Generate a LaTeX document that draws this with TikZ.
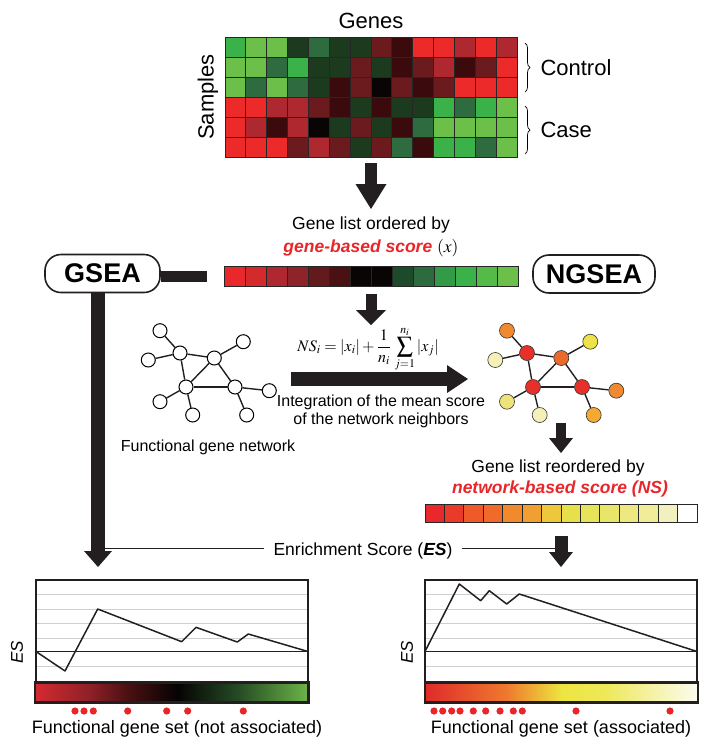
\documentclass[tikz,border=0pt]{standalone}
\usepackage{mathptmx}
\usepackage{fontspec}
\setmainfont{Liberation Sans}
\usetikzlibrary{arrows.meta,positioning,decorations.pathreplacing}
\definecolor{hmR}{HTML}{ED2A2A}
\definecolor{hmM}{HTML}{B0282F}
\definecolor{hmD}{HTML}{6B1A1E}
\definecolor{hmV}{HTML}{3A0A0C}
\definecolor{hmK}{HTML}{0A0505}
\definecolor{hmA}{HTML}{1C3A1E}
\definecolor{hmB}{HTML}{2E6B3E}
\definecolor{hmC}{HTML}{3BB14A}
\definecolor{hmE}{HTML}{6CC04A}
\definecolor{ink}{HTML}{231F20}
\definecolor{scorered}{HTML}{E8262A}
\definecolor{gridc}{HTML}{CFCFCF}
\definecolor{nsRed}{HTML}{E8302A}
\definecolor{nsDeep}{HTML}{EA6A2C}
\definecolor{nsOrange}{HTML}{F08A30}
\definecolor{nsAmber}{HTML}{F5A832}
\definecolor{nsYellow}{HTML}{EEE24A}
\definecolor{nsLemon}{HTML}{EEE27A}
\definecolor{nsPale}{HTML}{F4F0B8}
\definecolor{gbA}{HTML}{D42A30}
\definecolor{gbB}{HTML}{8E2028}
\definecolor{gbC}{HTML}{4A1012}
\definecolor{gbK}{HTML}{050303}
\definecolor{gbG}{HTML}{244A24}
\definecolor{gbL}{HTML}{6DB548}
\definecolor{nbA}{HTML}{DF2A2A}
\definecolor{nbB}{HTML}{EE7A2E}
\definecolor{nbC}{HTML}{EDE53F}
\definecolor{nbD}{HTML}{EEE85A}
\definecolor{nbE}{HTML}{FCFCF0}
\pgfdeclarehorizontalshading{gseabar}{100bp}{color(0bp)=(gbA); color(25bp)=(gbA); color(35bp)=(gbB); color(42bp)=(gbC); color(51bp)=(gbK); color(62bp)=(gbG); color(75bp)=(gbL); color(100bp)=(gbL)}
\pgfdeclarehorizontalshading{ngseabar}{100bp}{color(0bp)=(nbA); color(25bp)=(nbA); color(40bp)=(nbB); color(50bp)=(nbC); color(58bp)=(nbD); color(75bp)=(nbE); color(100bp)=(nbE)}
\newcommand{\setfs}[2]{\fontsize{#1}{#2}\selectfont}

\begin{document}
\begin{tikzpicture}[x=1pt,y=-1pt,font=\setfs{17.5}{21},
  cell/.style={draw=black!85,line width=0.8pt},
  pill/.style={draw=ink,line width=1.6pt,rounded corners=16pt,fill=white,inner sep=0pt,minimum height=38pt,font=\setfs{27}{30}\bfseries},
  gnode/.style={circle,draw=black,fill=white,line width=1pt,minimum size=14pt,inner sep=0pt},
  snode/.style={circle,draw=black!80,line width=0.6pt,minimum size=15pt,inner sep=0pt},
  edge/.style={line width=1.4pt,draw=ink},
  fat/.style n args={3}{draw=ink,line width=#1,-{Triangle[width=#2,length=#3,line width=0pt]}}]
  \useasboundingbox (0,0) rectangle (708,748);

  \node[font=\setfs{22}{26}] (genes) at (371,21) {Genes};
  \node[font=\setfs{22}{26},rotate=90] (samples) at (208,97) {Samples};
  \node[inner sep=0pt,minimum width=292pt,minimum height=120pt] (heat) at (371,97) {};
  \foreach \row [count=\r from 0] in {{C,E,E,A,B,A,A,D,V,R,R,M,R,M},{E,E,B,C,A,A,D,A,V,D,M,V,D,R},{E,B,E,B,A,V,D,K,D,V,D,R,R,R},{R,R,M,M,D,V,A,V,A,A,C,B,C,E},{R,M,V,M,K,A,D,A,V,B,E,E,E,E},{R,R,R,D,M,D,A,D,B,V,C,C,B,E}}{\foreach \c [count=\k from 0] in \row {\filldraw[cell,fill=hm\c] (225+\k*20.86,37+\r*20) rectangle ++(20.86,20);}}
  \draw[decorate,decoration={brace,amplitude=5pt},line width=0.7pt] (525,43) -- (525,92);
  \draw[decorate,decoration={brace,amplitude=5pt},line width=0.7pt] (525,106) -- (525,154);
  \node[font=\setfs{22}{26},anchor=west] (control) at (537,68) {Control};
  \node[font=\setfs{22}{26},anchor=west] (case) at (537,130) {Case};

  \coordinate (tipA) at (371,209);
  \draw[fat={12pt}{31pt}{25pt}] ([yshift=-6pt]heat.south) -- (tipA);
  \node (ordtxt) at (371,225) {Gene list ordered by};
  \node (ordscore) at (371,248) {\textcolor{scorered}{\bfseries\itshape gene-based score} $(x)$};
  \node[inner sep=0pt,minimum width=294pt,minimum height=20pt] (genebar) at (371,276) {};
  \foreach \hex [count=\k from 0] in {E8282A,D42A2E,B0282F,8E2329,621A1C,4A1012,0A0505,0A0505,1C4A2A,2D6B3E,339A48,3BB14A,55BB48,6CC04A}{\definecolor{cellc}{HTML}{\hex}\filldraw[cell,fill=cellc] (224+\k*21,266) rectangle ++(21,20);}

  \node[pill,minimum width=115pt] (gsea) at (102.5,273.5) {GSEA};
  \node[pill,minimum width=122pt] (ngsea) at (594,274) {NGSEA};
  \coordinate (stub) at (207,276);
  \draw[draw=ink,line width=11pt] (gsea.east |- stub) -- (stub);
  \coordinate (tipE) at (98,567);
  \draw[fat={14pt}{28pt}{16pt}] (gsea.south -| tipE) -- (tipE);

  \coordinate (tipB) at (371,325);
  \draw[fat={11pt}{30pt}{15pt}] ([yshift=-8pt]genebar.south) -- (tipB);
  \node[font=\setfs{16}{18}] (formula) at (368,349) {$\displaystyle NS_i=|x_i|+\frac{1}{n_i}\,\sum_{j=1}^{n_i}|x_j|$};
  \coordinate (intS) at (291,379);
  \coordinate (intE) at (468,379);
  \draw[fat={14pt}{28pt}{21pt}] (intS) -- (intE);
  \node[font=\setfs{16}{18},align=center] (integ) at (381,411) {Integration of the mean score\\of the network neighbors};

  \foreach \n/\px/\py in {1/160/330.7,2/180/353,3/214.3/358,4/243.3/341.7,5/148.3/360,6/186/387,7/235/387,8/269.3/390.7,9/160/401.7,10/192.7/415,11/246.7/415}{\node[gnode] (g\n) at (\px,\py) {};}
  \foreach \a/\b in {1/2,5/2,2/3,3/4,2/6,3/6,3/7,6/7,7/8,6/9,6/10,7/11}{\draw[edge] (g\a) -- (g\b);}
  \node[font=\setfs{16}{18}] (netname) at (208,447) {Functional gene network};

  \foreach \n/\px/\py/\col in {1/160/330.7/nsOrange,2/180/353/nsRed,3/214.3/358/nsDeep,4/243.3/341.7/nsYellow,5/148.3/360/nsPale,6/186/387/nsRed,7/235/387/nsRed,8/269.3/390.7/nsOrange,9/160/401.7/nsLemon,10/192.7/415/nsPale,11/246.7/415/nsAmber}{\node[snode,fill=\col] (s\n) at (\px+347,\py) {};}
  \foreach \a/\b in {1/2,5/2,2/3,3/4,2/6,3/6,3/7,6/7,7/8,6/9,6/10,7/11}{\draw[edge] (s\a) -- (s\b);}

  \coordinate (netC) at (561,423);
  \coordinate (tipC) at (561,453);
  \draw[fat={10pt}{24pt}{15pt}] (netC) -- (tipC);
  \node (reordtxt) at (558,468) {Gene list reordered by};
  \node[text=scorered,font=\setfs{17.5}{21}\bfseries\itshape] (reordscore) at (560,489) {network-based score (NS)};
  \node[inner sep=0pt,minimum width=272pt,minimum height=18pt] (nsbar) at (561,513) {};
  \foreach \hex [count=\k from 0] in {E8282A,EA3A2A,EE5A2A,F06A2A,F08A2A,F0A030,ECC83A,E8E04A,E8E45A,E8E66A,EEE880,F0EC9A,F3F0C0,FFFFFF}{\definecolor{cellc}{HTML}{\hex}\filldraw[cell,fill=cellc] (425+\k*19.43,504) rectangle ++(19.43,18);}
  \coordinate (tipD) at (561,567);
  \draw[fat={13pt}{24pt}{15pt}] ([yshift=-14pt]nsbar.south) -- (tipD);

  \node[inner xsep=9pt] (esl) at (363,551) {Enrichment Score (\textbf{\textit{ES}})};
  \coordinate (eslL) at (98,548);
  \coordinate (eslR) at (561,548);
  \draw[ink,line width=1pt] (eslL) -- (esl.west |- eslL);
  \draw[ink,line width=1pt] (esl.east |- eslR) -- (eslR);

  \foreach \ox in {36,425}{
    \foreach \gy in {594.5,609,623.5,638,666.5}{\draw[gridc,line width=1pt] (\ox,\gy) -- ++(272,0);}
    \draw[ink,line width=1.4pt] (\ox,651.5) -- ++(272,0);
  }
  \draw[ink,line width=1.5pt,line join=round] (36,651.5) -- (65,671) -- (97.7,609) -- (181.7,641.7) -- (196,627.3) -- (237.3,642) -- (248.3,634) -- (308,651.5);
  \draw[ink,line width=1.5pt,line join=round] (425,651.5) -- (459.3,584) -- (480.7,600.7) -- (489.3,590.7) -- (506.7,604) -- (519.3,594) -- (697,651.5);
  \draw[ink,line width=1.4pt] (36,580) rectangle (308,682);
  \draw[ink,line width=1.4pt] (425,580) rectangle (697,682);
  \shade[shading=gseabar] (35,682.5) rectangle (308.5,702.5);
  \draw[ink,line width=2.6pt] (35,682.5) rectangle (308.5,702.5);
  \shade[shading=ngseabar] (425,682.5) rectangle (698,702.5);
  \draw[ink,line width=2.6pt] (425,682.5) rectangle (698,702.5);
  \foreach \dx in {75,84,93.3,127.7,166.7,187.7,243.3}{\fill[scorered] (\dx,711) circle (3.6);}
  \foreach \dx in {434,442.7,451.7,460,473.3,485.7,500,513.3,522.3,576,670}{\fill[scorered] (\dx,711) circle (3.6);}

  \node[rotate=90,font=\setfs{17}{20}\itshape] (esL) at (17,652) {ES};
  \node[rotate=90,font=\setfs{17}{20}\itshape] (esR) at (407,652) {ES};
  \node[font=\setfs{18}{21}] (setL) at (177,729) {Functional gene set (not associated)};
  \node[font=\setfs{18}{21}] (setR) at (561,729) {Functional gene set (associated)};
\end{tikzpicture}
\end{document}
